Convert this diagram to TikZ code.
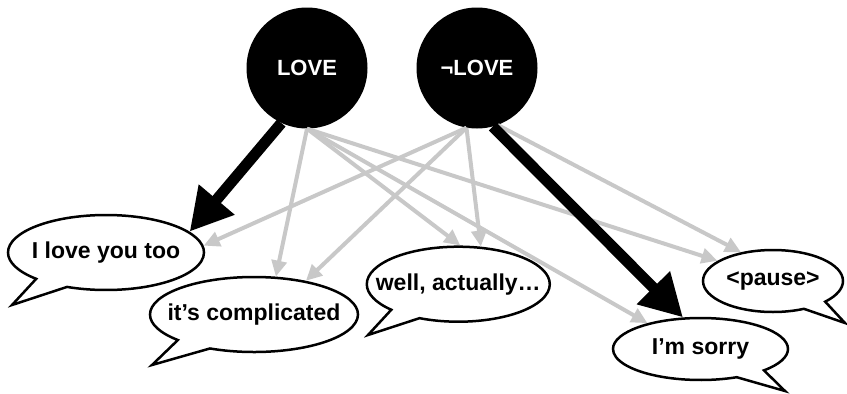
\documentclass[tikz,border=0pt]{standalone}
\usepackage{fontspec}
\setmainfont{Liberation Sans}
\usetikzlibrary{arrows.meta,shapes.callouts}
\definecolor{inkcolor}{HTML}{000000}
\definecolor{faintedge}{HTML}{C8C8C8}
\tikzset{
  state/.style={
    circle,
    fill=inkcolor,
    minimum size=121pt,
    inner sep=0pt,
    font=\fontsize{22}{26}\selectfont\bfseries,
    text=white
  },
  bubble/.style={
    ellipse callout,
    draw=inkcolor,
    fill=white,
    line width=2.5pt,
    inner sep=0pt,
    callout pointer arc=22,
    label={[font=\fontsize{23}{27}\selectfont\bfseries]center:#1}
  },
  strong/.style={-{Triangle[length=42pt,width=44pt]}, draw=inkcolor, line width=11pt},
  weak/.style={-{Triangle[length=16pt,width=15pt]}, draw=faintedge, line width=4pt}
}

\begin{document}
\begin{tikzpicture}[x=1pt,y=-1pt]
  \useasboundingbox (0,0) rectangle (847,394);

  % Truth values.
  \node[state] (love) at (307,68) {LOVE};
  \node[state] (nlove) at (477,68) {¬LOVE};

  % Replies.
  \node[bubble={I love you too}, minimum width=196pt, minimum height=75pt,
    callout absolute pointer={(12,305)}] (lovetoo) at (106,252.5) {};
  \node[bubble={it’s complicated}, minimum width=208pt, minimum height=75pt,
    callout absolute pointer={(152,365)}] (cplx) at (254,314.5) {};
  \node[bubble={well, actually…}, minimum width=183pt, minimum height=75pt,
    callout absolute pointer={(368,335)}] (well) at (458.3,284.2) {};
  \node[bubble={<pause>}, minimum width=140pt, minimum height=62pt,
    callout absolute pointer={(845,323)}] (pause) at (773,281) {};
  \node[bubble={I’m sorry}, minimum width=175pt, minimum height=62pt,
    callout absolute pointer={(785,391)}] (sorry) at (700.5,349) {};

  % Unlikely replies.
  \draw[weak] (love.-90) -- (cplx.60);
  \draw[weak] (love.-90) -- (well.87);
  \draw[weak] (love.-90) -- (sorry.154);
  \draw[weak] (love.-90) -- (pause.160);
  \draw[weak] (nlove.-100) -- (lovetoo.4);
  \draw[weak] (nlove.-100) -- (cplx.33);
  \draw[weak] (nlove.-100) -- (well.59);
  \draw[weak] (nlove.-70) -- (pause.138);

  % Likely replies.
  \draw[strong] (love.-115) -- (lovetoo.14);
  \draw[strong] (nlove.-75) -- (sorry.119);

\end{tikzpicture}
\end{document}
